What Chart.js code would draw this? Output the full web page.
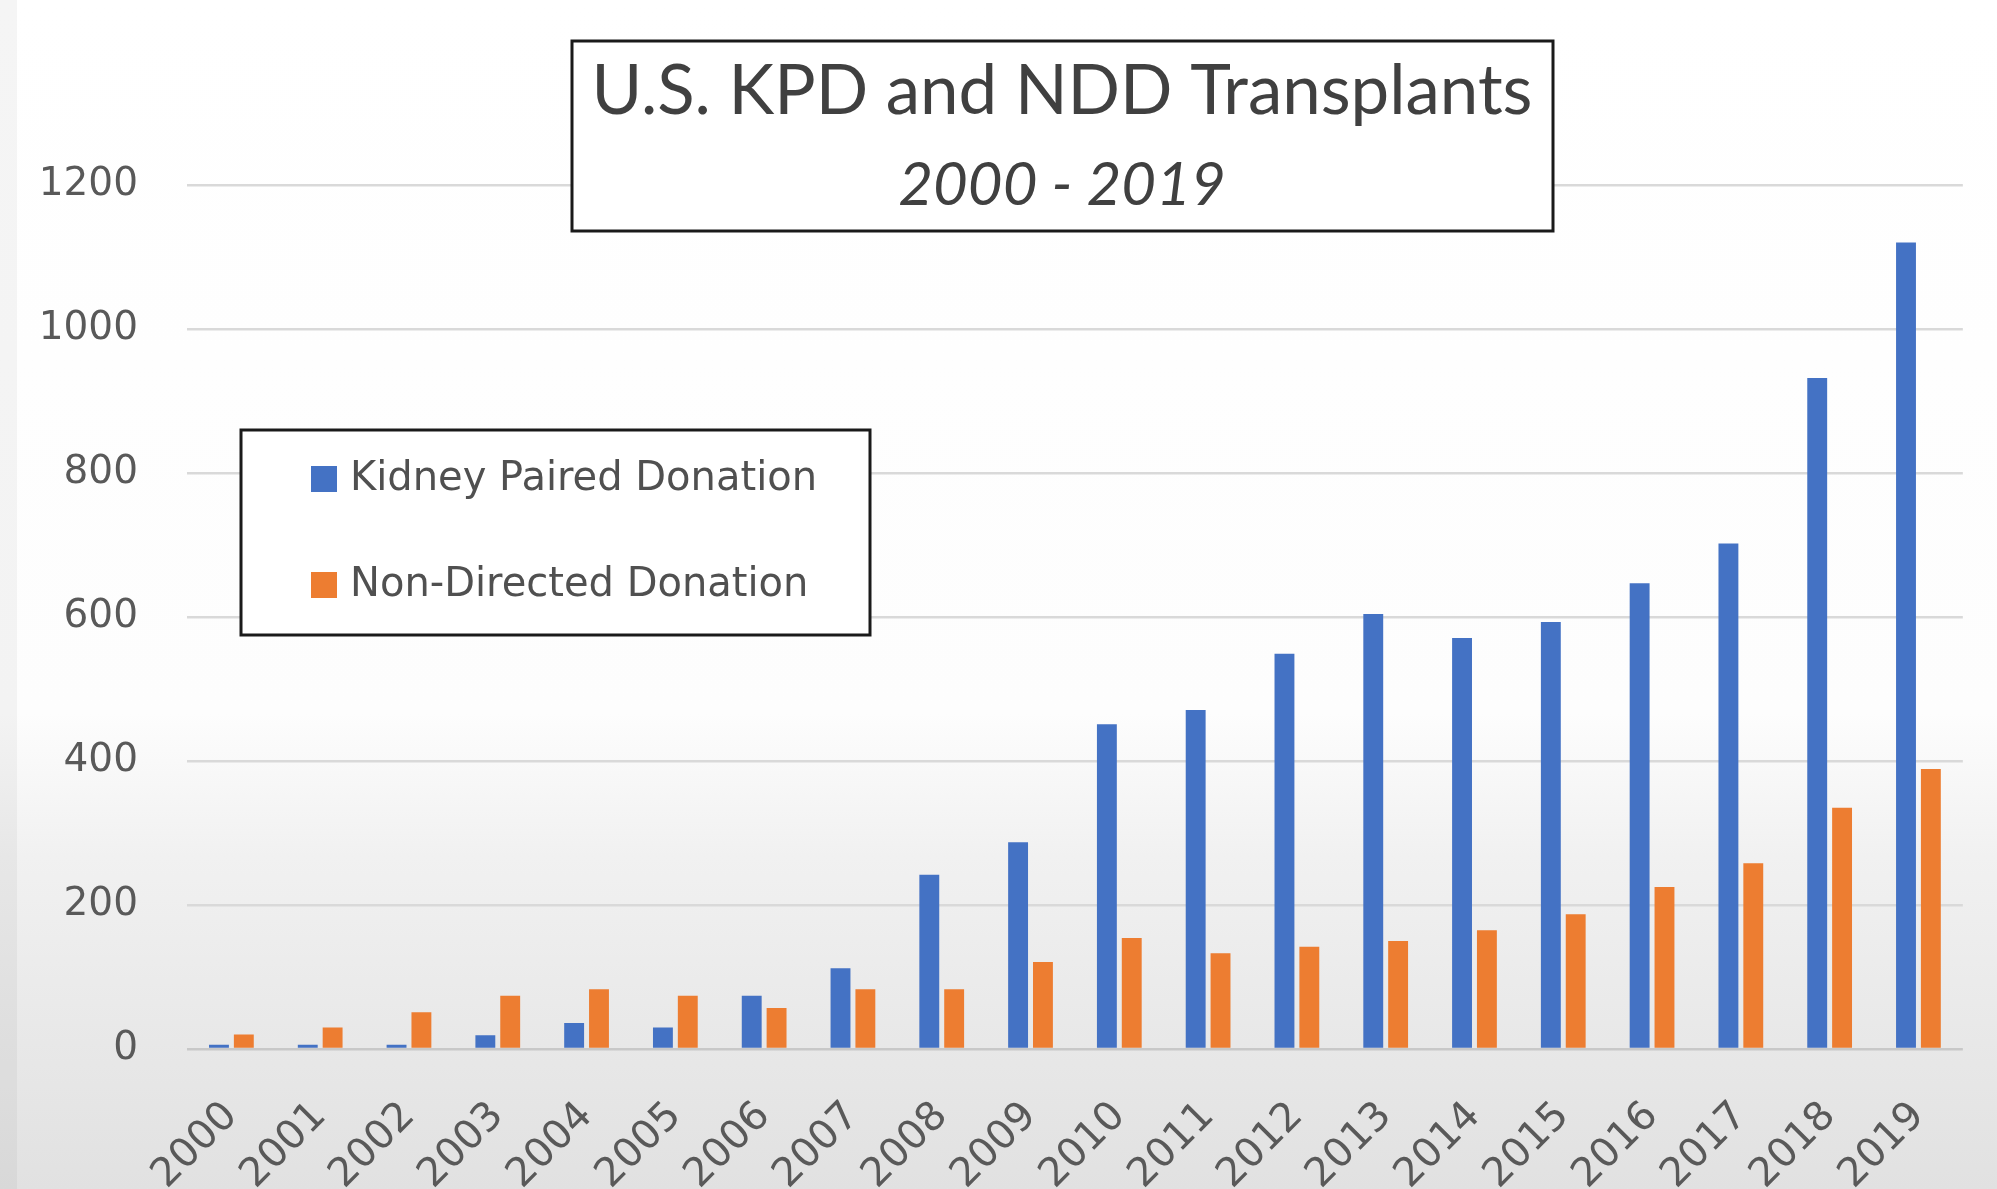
<!DOCTYPE html>
<html>
<head>
<meta charset="utf-8">
<title>U.S. KPD and NDD Transplants</title>
<script src="https://cdn.jsdelivr.net/npm/chart.js@4.4.1/dist/chart.umd.min.js"></script>
<style>
  html, body { margin: 0; padding: 0; background: #ffffff; }
  canvas { display: block; }
</style>
</head>
<body>
<canvas id="transplants" width="1997" height="1189"></canvas>
<script>
// Yearly transplant counts
const years = ["2000", "2001", "2002", "2003", "2004", "2005", "2006", "2007", "2008", "2009",
  "2010", "2011", "2012", "2013", "2014", "2015", "2016", "2017", "2018", "2019"];
const kpdCounts = [6, 6, 6, 19, 36, 30, 74, 112, 242, 287, 451, 471, 549, 604, 571, 593, 647, 702, 932, 1120];
const nddCounts = [20, 30, 51, 74, 83, 74, 57, 83, 83, 121, 154, 133, 142, 150, 165, 187, 225, 258, 335, 389];
const yTicks = [0, 200, 400, 600, 800, 1000, 1200];

const titleText = "U.S. KPD and NDD Transplants";
const subtitleText = "2000 - 2019";

const BLUE = "#4472C4";
const ORANGE = "#ED7D31";
const TICK_COLOR = "#595959";

// slide-like backdrop: white on top, fading to light grey at the bottom
const backdrop = {
  id: "backdrop",
  beforeDraw(chart) {
    const { ctx, width, height } = chart;
    const g = ctx.createLinearGradient(0, 0, 0, height);
    g.addColorStop(0, "#ffffff");
    g.addColorStop(0.6, "#fdfdfd");
    g.addColorStop(0.72, "#f1f1f1");
    g.addColorStop(1, "#e1e1e1");
    ctx.save();
    ctx.fillStyle = g;
    ctx.fillRect(0, 0, width, height);
    ctx.fillStyle = "rgba(0,0,0,0.04)";
    ctx.fillRect(0, 0, 17, height);
    ctx.restore();
  }
};

// boxed title and boxed legend drawn over the plot
const boxes = {
  id: "boxes",
  afterDraw(chart) {
    const ctx = chart.ctx;
    ctx.save();

    // title box
    ctx.fillStyle = "#ffffff";
    ctx.fillRect(572, 41, 981, 190);
    ctx.strokeStyle = "#1a1a1a";
    ctx.lineWidth = 3;
    ctx.strokeRect(572, 41, 981, 190);

    ctx.fillStyle = "#404040";
    ctx.textAlign = "center";
    ctx.textBaseline = "alphabetic";
    ctx.font = "69px Lato";
    ctx.fillText(titleText, 1062, 114);
    ctx.font = "italic 60px Lato";
    ctx.fillText(subtitleText, 1062, 205);

    // legend box
    ctx.fillStyle = "#ffffff";
    ctx.fillRect(241, 430, 629, 205);
    ctx.strokeStyle = "#1a1a1a";
    ctx.strokeRect(241, 430, 629, 205);

    ctx.textAlign = "left";
    ctx.textBaseline = "middle";
    ctx.font = "40px 'DejaVu Sans'";
    const rows = [479, 585];
    chart.data.datasets.forEach((ds, i) => {
      ctx.fillStyle = ds.backgroundColor;
      ctx.fillRect(311, rows[i] - 13, 26, 26);
      ctx.fillStyle = "#505050";
      ctx.fillText(ds.label, 350, rows[i] + 1);
    });

    ctx.restore();
  }
};

new Chart(document.getElementById("transplants"), {
  type: "bar",
  data: {
    labels: years,
    datasets: [
      {
        label: "Kidney Paired Donation",
        data: kpdCounts,
        backgroundColor: BLUE,
        categoryPercentage: 0.56,
        barPercentage: 0.8
      },
      {
        label: "Non-Directed Donation",
        data: nddCounts,
        backgroundColor: ORANGE,
        categoryPercentage: 0.56,
        barPercentage: 0.8
      }
    ]
  },
  options: {
    responsive: false,
    animation: false,
    layout: { padding: { top: 185, right: 25, bottom: 0, left: 0 } },
    plugins: {
      legend: { display: false },
      title: { display: false },
      tooltip: { enabled: false }
    },
    scales: {
      x: {
        grid: { display: false, drawTicks: false },
        border: { display: false },
        ticks: {
          autoSkip: false,
          minRotation: 45,
          maxRotation: 45,
          padding: 44,
          color: TICK_COLOR,
          font: { family: "'DejaVu Sans'", size: 40 }
        },
        afterFit(scale) { scale.height = 140; }
      },
      y: {
        min: 0,
        max: 1200,
        afterBuildTicks(scale) { scale.ticks = yTicks.map(v => ({ value: v })); },
        grid: {
          drawTicks: false,
          lineWidth: 2.5,
          color: ctx => (ctx.tick && ctx.tick.value === 0 ? "#c8c8c8" : "#d9d9d9")
        },
        border: { display: false },
        ticks: {
          padding: 49,
          color: TICK_COLOR,
          font: { family: "'DejaVu Sans'", size: 39 },
          callback: v => String(v)
        },
        afterFit(scale) { scale.width = 187; }
      }
    }
  },
  plugins: [backdrop, boxes]
});
</script>
</body>
</html>
